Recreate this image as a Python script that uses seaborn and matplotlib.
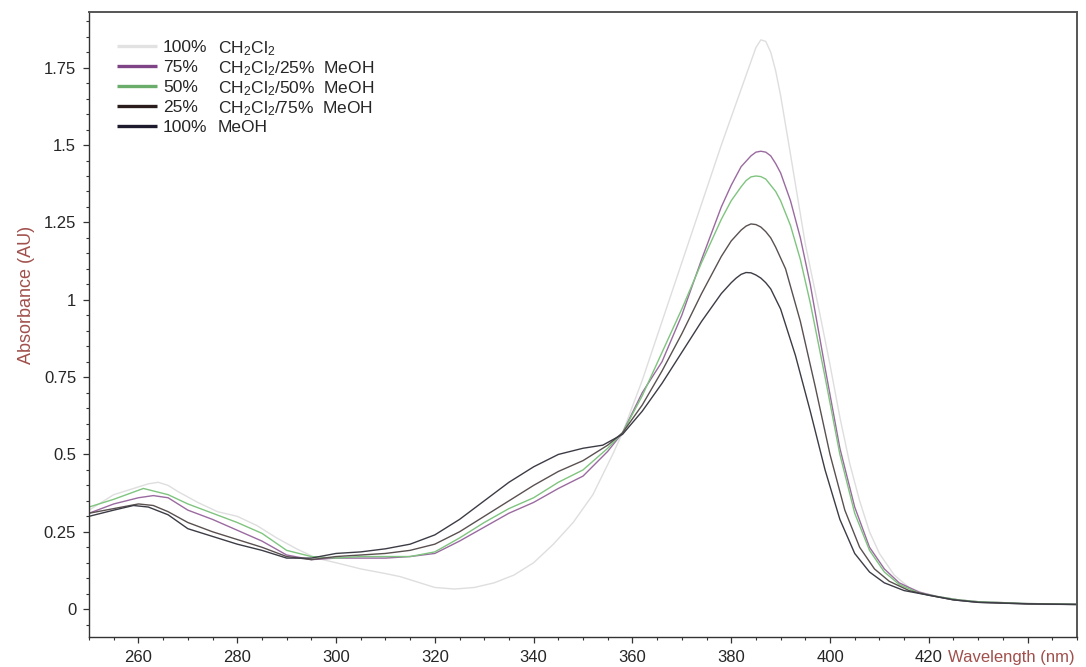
import matplotlib
matplotlib.use("Agg")
import matplotlib.pyplot as plt
from matplotlib.ticker import MultipleLocator, FuncFormatter
import pandas as pd
import seaborn as sns

# spectra (wavelength nm, absorbance AU)
wl_dcm = [250, 255, 260, 262, 264, 266, 268, 272, 276, 280, 284, 288, 292, 296, 300, 305, 310, 313,
          316, 320, 324, 328, 332, 336, 340, 344, 348, 352, 356, 358, 362, 366, 370, 374,
          378, 380, 382, 384, 385, 386, 387, 388, 389, 390, 392, 395, 398, 400, 402, 404, 406,
          408, 410, 413, 416, 420, 425, 430, 440, 450]
abs_dcm = [0.32, 0.37, 0.395, 0.405, 0.41, 0.40, 0.38, 0.345, 0.315, 0.30, 0.27, 0.23, 0.195, 0.165, 0.15, 0.13, 0.115, 0.105,
           0.09, 0.07, 0.065, 0.07, 0.085, 0.11, 0.15, 0.21, 0.28, 0.37, 0.50, 0.57, 0.74, 0.93, 1.12, 1.31,
           1.50, 1.59, 1.68, 1.77, 1.815, 1.84, 1.835, 1.80, 1.74, 1.66, 1.47, 1.18, 0.95, 0.79, 0.62, 0.47, 0.35,
           0.25, 0.18, 0.11, 0.07, 0.045, 0.03, 0.022, 0.016, 0.014]

wl_75 = [250, 255, 260, 263, 266, 270, 275, 280, 285, 290, 295, 300, 305, 310, 315, 320, 325,
         330, 335, 340, 345, 350, 355, 358, 362, 366, 370, 374, 378, 380, 382, 384, 385, 386, 387,
         388, 389, 390, 392, 394, 396, 399, 402, 405, 408, 411, 414, 418, 422, 426, 430, 440, 450]
abs_75 = [0.31, 0.34, 0.36, 0.367, 0.36, 0.32, 0.29, 0.255, 0.22, 0.175, 0.16, 0.165, 0.165, 0.165, 0.17, 0.18, 0.22,
          0.265, 0.31, 0.345, 0.39, 0.43, 0.51, 0.57, 0.70, 0.80, 0.95, 1.13, 1.30, 1.37, 1.43, 1.465, 1.477, 1.48, 1.477,
          1.465, 1.44, 1.41, 1.32, 1.20, 1.05, 0.78, 0.52, 0.33, 0.20, 0.13, 0.085, 0.055, 0.04, 0.03, 0.024, 0.018, 0.016]

wl_50 = [250, 255, 261, 266, 270, 275, 280, 285, 290, 295, 300, 305, 310, 315, 320, 325, 330,
         335, 340, 345, 350, 355, 358, 362, 366, 370, 374, 378, 380, 382, 383, 384, 385, 386, 387,
         388, 389, 390, 392, 394, 396, 399, 402, 405, 408, 411, 414, 418, 422, 426, 430, 440, 450]
abs_50 = [0.33, 0.355, 0.39, 0.37, 0.34, 0.31, 0.28, 0.245, 0.19, 0.17, 0.165, 0.17, 0.17, 0.17, 0.185, 0.23, 0.28,
          0.325, 0.36, 0.41, 0.45, 0.52, 0.57, 0.69, 0.83, 0.97, 1.12, 1.26, 1.32, 1.365, 1.385, 1.397, 1.40, 1.398, 1.39,
          1.37, 1.35, 1.32, 1.24, 1.13, 0.99, 0.75, 0.50, 0.31, 0.19, 0.12, 0.08, 0.052, 0.04, 0.03, 0.024, 0.018, 0.016]

wl_25 = [250, 255, 260, 263, 266, 270, 275, 280, 285, 290, 295, 300, 305, 310, 315, 320, 325,
         330, 335, 340, 345, 350, 355, 358, 362, 366, 370, 374, 378, 380, 382, 383, 384, 385, 386,
         387, 388, 389, 391, 394, 397, 400, 403, 406, 409, 412, 416, 420, 425, 430, 440, 450]
abs_25 = [0.31, 0.325, 0.34, 0.335, 0.315, 0.28, 0.25, 0.225, 0.20, 0.17, 0.16, 0.17, 0.175, 0.18, 0.19, 0.21, 0.25,
          0.30, 0.35, 0.40, 0.445, 0.48, 0.53, 0.57, 0.66, 0.77, 0.89, 1.02, 1.14, 1.19, 1.225, 1.238, 1.245, 1.243, 1.235,
          1.22, 1.20, 1.17, 1.10, 0.93, 0.72, 0.50, 0.32, 0.20, 0.13, 0.09, 0.06, 0.045, 0.03, 0.022, 0.017, 0.015]

wl_meoh = [250, 255, 259, 262, 266, 270, 275, 280, 285, 290, 295, 300, 305, 310, 315, 320, 325,
           330, 335, 340, 345, 350, 354, 358, 362, 366, 370, 374, 378, 380, 381, 382, 383, 384, 385,
           386, 387, 388, 390, 393, 396, 399, 402, 405, 408, 411, 415, 420, 425, 430, 440, 450]
abs_meoh = [0.30, 0.32, 0.335, 0.33, 0.305, 0.26, 0.235, 0.21, 0.19, 0.165, 0.165, 0.18, 0.185, 0.195, 0.21, 0.24, 0.29,
            0.35, 0.41, 0.46, 0.50, 0.52, 0.53, 0.565, 0.64, 0.73, 0.83, 0.93, 1.02, 1.055, 1.07, 1.082, 1.088, 1.087, 1.08,
            1.07, 1.055, 1.035, 0.97, 0.82, 0.64, 0.45, 0.29, 0.18, 0.12, 0.085, 0.06, 0.045, 0.03, 0.022, 0.017, 0.015]

pcts = ["100%", "75%", "50%", "25%", "100%"]
solvents = [r"CH$_2$Cl$_2$", r"CH$_2$Cl$_2$/25%  MeOH", r"CH$_2$Cl$_2$/50%  MeOH",
            r"CH$_2$Cl$_2$/75%  MeOH", "MeOH"]
line_colors = ["#dedede", "#9a6aa0", "#7fc47f", "#5a5050", "#3c3c46"]
legend_colors = ["#e2e2e2", "#7e4486", "#6aad6a", "#2a1c1c", "#1c1a2c"]

series = [(wl_dcm, abs_dcm), (wl_75, abs_75), (wl_50, abs_50), (wl_25, abs_25), (wl_meoh, abs_meoh)]
frames = []
for i, (w, a) in enumerate(series):
    frames.append(pd.DataFrame({"wl": w, "abs": a, "s": i}))
df = pd.concat(frames, ignore_index=True)

sns.set_style("ticks")
plt.rcParams["font.family"] = ["Liberation Sans", "DejaVu Sans"]
plt.rcParams["mathtext.fontset"] = "custom"
plt.rcParams["mathtext.rm"] = "Liberation Sans"
plt.rcParams["mathtext.it"] = "Liberation Sans:italic"

fig, ax = plt.subplots(figsize=(10.86, 6.67), dpi=100)
fig.subplots_adjust(left=0.082, right=0.9917, bottom=0.045, top=0.982)

sns.lineplot(data=df, x="wl", y="abs", hue="s", palette=dict(enumerate(line_colors)),
             linewidth=1.0, legend=False, errorbar=None, ax=ax)

ax.set_xlim(250, 450)
ax.set_ylim(-0.09, 1.93)
ax.xaxis.set_major_locator(MultipleLocator(20))
ax.xaxis.set_minor_locator(MultipleLocator(5))
ax.yaxis.set_major_locator(MultipleLocator(0.25))
ax.yaxis.set_minor_locator(MultipleLocator(0.05))
ax.xaxis.set_major_formatter(FuncFormatter(lambda v, p: "" if v > 430 or v < 255 else f"{v:g}"))
ax.yaxis.set_major_formatter(FuncFormatter(lambda v, p: f"{v:g}"))
ax.tick_params(which="major", length=4.3, width=0.9, color="#333333", labelsize=12, pad=5)
ax.tick_params(which="minor", length=2.2, width=0.8, color="#333333")

for side in ["left", "bottom"]:
    ax.spines[side].set_color("#333333")
    ax.spines[side].set_linewidth(1.0)
for side in ["top", "right"]:
    ax.spines[side].set_color("#555555")
    ax.spines[side].set_linewidth(1.4)

lab_color = "#a0504c"
ax.set_xlabel("Wavelength (nm)", fontsize=12, color=lab_color, loc="right")
ax.xaxis.set_label_coords(0.998, -0.0205)
ax.set_ylabel("Absorbance (AU)", fontsize=13, color=lab_color)
ax.yaxis.set_label_coords(-0.055, 0.547)

# legend drawn by hand: swatch, percentage column, solvent column
row_top = (637 - 46) / 625
row_step = 20 / 625
for i, (p, s, c) in enumerate(zip(pcts, solvents, legend_colors)):
    y = row_top - i * row_step
    ax.plot([0.0283, 0.0688], [y, y], transform=ax.transAxes, color=c, linewidth=2.4,
            solid_capstyle="butt")
    ax.text(0.0749, y, p, transform=ax.transAxes, fontsize=12.5, va="center_baseline", ha="left")
    ax.text(0.1306, y, s, transform=ax.transAxes, fontsize=12.5, va="center_baseline", ha="left")

fig.savefig("out.png", dpi=100)
